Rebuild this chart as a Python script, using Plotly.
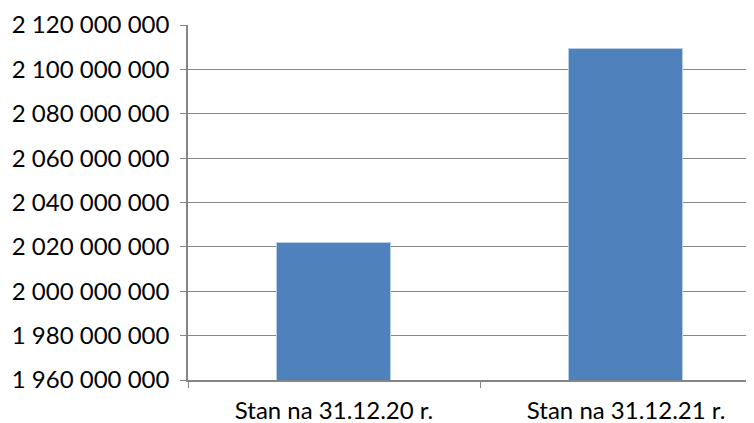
import plotly.graph_objects as go

categories = ["Stan na 31.12.20 r.", "Stan na 31.12.21 r."]
values = [2021600000, 2109000000]

fig = go.Figure()
fig.add_trace(go.Bar(
    x=categories, y=values,
    marker=dict(color="#4F81BD", line=dict(color="#B9CDE5", width=1)),
    width=0.39,
))

# page body has an 8px margin, so the figure is offset by 8px right and down
fig.update_layout(
    width=746, height=415,
    margin=dict(l=180, r=0, t=17, b=43),
    paper_bgcolor="white", plot_bgcolor="white",
    separators=", ",
    showlegend=False,
    font=dict(family="Lato, Carlito, sans-serif", size=20, color="black"),
    bargap=0.0,
)
fig.update_xaxes(
    type="category",
    range=[-0.5, 1.438],
    showline=True, linecolor="#868686", linewidth=1.5,
    ticks="outside", tickson="boundaries", ticklen=6, tickcolor="#868686",
    showgrid=False,
    automargin=False,
    ticklabelstandoff=8,
    tickfont=dict(size=24),
)
fig.update_yaxes(
    range=[1960000000, 2120000000],
    dtick=20000000,
    tickformat=",d",
    showline=True, linecolor="#868686", linewidth=1.5,
    ticks="outside", ticklen=6, tickcolor="#868686",
    showgrid=True, gridcolor="#868686", gridwidth=1,
    zeroline=False,
    automargin=False,
    ticklabelstandoff=6,
    tickfont=dict(size=24),
)

fig.write_html("out.html")
